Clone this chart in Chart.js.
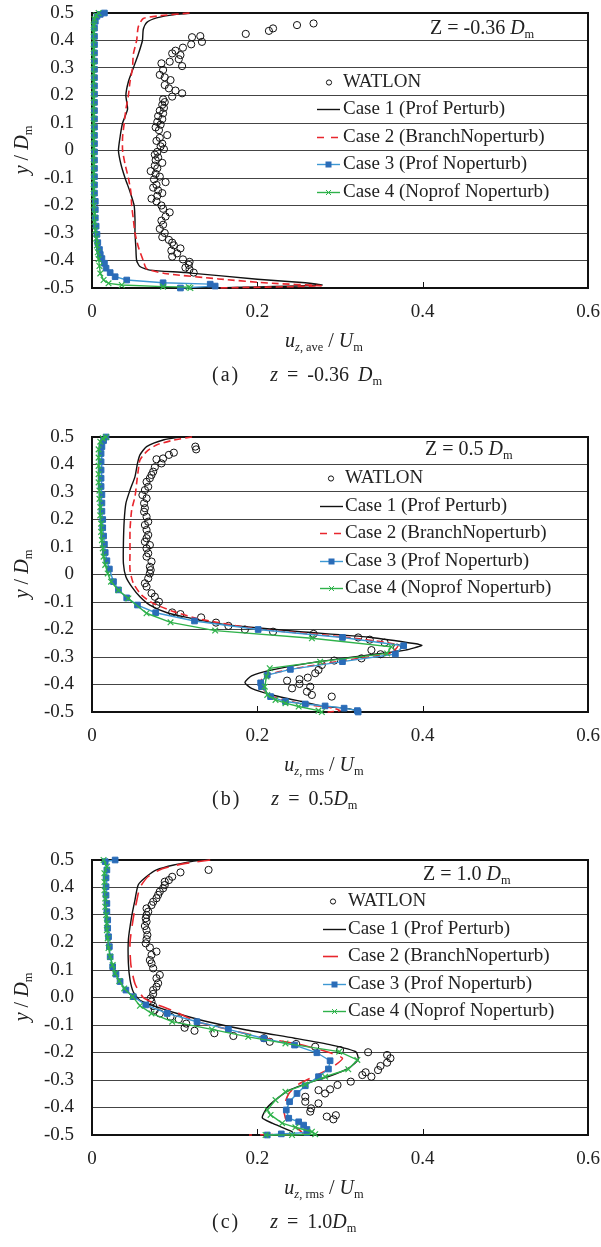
<!DOCTYPE html>
<html>
<head>
<meta charset="utf-8">
<script src="https://cdn.jsdelivr.net/npm/chart.js@4.4.0/dist/chart.umd.min.js"></script>
<style>
  body { margin: 0; background: #fff; }
  #page { position: relative; width: 601px; height: 1247px; overflow: hidden;
          font-family: "Liberation Serif", "Times New Roman", serif; color: #222; }
  .panel { position: absolute; left: 0; width: 601px; height: 330px; }
  .lbl { position: absolute; white-space: nowrap; font-size: 20px; line-height: 20px; }
  .lbl sub { font-size: 0.62em; vertical-align: baseline; position: relative; top: 0.3em; }
  .ytitle { transform: translate(-50%, -50%) rotate(-90deg); }
  .xtitle { transform: translateX(-50%); }
  .cap { letter-spacing: 2px; margin-right: 30px; }
  .capz { word-spacing: 4px; }
</style>
</head>
<body>
<div id="page">
  <div class="panel" style="top:0px"><canvas id="chartA"></canvas></div>
  <div class="panel" style="top:424px"><canvas id="chartB"></canvas></div>
  <div class="panel" style="top:847px"><canvas id="chartC"></canvas></div>

  <!-- panel (a) -->
  <div class="lbl ytitle" style="left:22px; top:150px"><i>y</i> / <i>D</i><sub>m</sub></div>
  <div class="lbl xtitle" style="left:324px; top:330px"><i>u</i><sub><i>z</i>, ave</sub> / <i>U</i><sub>m</sub></div>
  <div class="lbl" style="left:430px; top:17px">Z = -0.36 <i>D</i><sub>m</sub></div>
  <div class="lbl" style="left:212px; top:364px"><span class="cap">(a)</span><span class="capz"><i>z</i> = -0.36 <i>D</i><sub>m</sub></span></div>

  <!-- panel (b) -->
  <div class="lbl ytitle" style="left:22px; top:574px"><i>y</i> / <i>D</i><sub>m</sub></div>
  <div class="lbl xtitle" style="left:324px; top:754px"><i>u</i><sub><i>z</i>, rms</sub> / <i>U</i><sub>m</sub></div>
  <div class="lbl" style="left:425px; top:438px">Z = 0.5 <i>D</i><sub>m</sub></div>
  <div class="lbl" style="left:212px; top:788px"><span class="cap">(b)</span><span class="capz"><i>z</i> = 0.5<i>D</i><sub>m</sub></span></div>

  <!-- panel (c) -->
  <div class="lbl ytitle" style="left:22px; top:997px"><i>y</i> / <i>D</i><sub>m</sub></div>
  <div class="lbl xtitle" style="left:324px; top:1177px"><i>u</i><sub><i>z</i>, rms</sub> / <i>U</i><sub>m</sub></div>
  <div class="lbl" style="left:423px; top:863px">Z = 1.0 <i>D</i><sub>m</sub></div>
  <div class="lbl" style="left:212px; top:1211px"><span class="cap">(c)</span><span class="capz"><i>z</i> = 1.0<i>D</i><sub>m</sub></span></div>
</div>

<script>
// axes
const xTicks = [0, 0.2, 0.4, 0.6];
const xTickLabels = ['0', '0.2', '0.4', '0.6'];
const yTicks = [-0.5, -0.4, -0.3, -0.2, -0.1, 0, 0.1, 0.2, 0.3, 0.4, 0.5];
const yTickLabelsAB = ['-0.5', '-0.4', '-0.3', '-0.2', '-0.1', '0', '0.1', '0.2', '0.3', '0.4', '0.5'];
const yTickLabelsC = ['-0.5', '-0.4', '-0.3', '-0.2', '-0.1', '0.0', '0.1', '0.2', '0.3', '0.4', '0.5'];
const seriesNames = ['WATLON', 'Case 1 (Prof Perturb)', 'Case 2 (BranchNoperturb)', 'Case 3 (Prof Noperturb)', 'Case 4 (Noprof Noperturb)'];

// (a) z = -0.36 Dm, pairs are [u/Um, y/Dm]
const aWatlon = [
  [0.186, 0.424], [0.214, 0.435], [0.219, 0.444], [0.248, 0.456], [0.268, 0.462],
  [0.131, 0.416], [0.121, 0.412], [0.133, 0.395], [0.12, 0.386], [0.11, 0.374], [0.101, 0.363], [0.097, 0.353],
  [0.107, 0.347], [0.105, 0.332], [0.094, 0.323], [0.109, 0.307], [0.084, 0.317], [0.086, 0.293], [0.082, 0.275],
  [0.088, 0.266], [0.095, 0.256], [0.088, 0.238], [0.093, 0.226], [0.101, 0.218], [0.109, 0.208], [0.097, 0.196],
  [0.086, 0.186], [0.088, 0.176], [0.085, 0.166], [0.087, 0.155], [0.082, 0.145], [0.086, 0.135], [0.08, 0.125],
  [0.085, 0.114], [0.079, 0.104], [0.083, 0.094], [0.077, 0.084], [0.081, 0.074], [0.091, 0.056], [0.082, 0.046],
  [0.078, 0.035], [0.085, 0.025], [0.083, 0.015], [0.087, 0.005], [0.079, -0.005], [0.076, -0.015], [0.08, -0.025],
  [0.077, -0.035], [0.085, -0.045], [0.076, -0.055], [0.079, -0.065], [0.071, -0.075], [0.077, -0.085], [0.082, -0.095],
  [0.075, -0.105], [0.089, -0.115], [0.078, -0.125], [0.074, -0.135], [0.08, -0.145], [0.085, -0.155], [0.079, -0.165],
  [0.072, -0.175], [0.078, -0.185], [0.084, -0.2], [0.086, -0.212], [0.094, -0.225], [0.089, -0.24], [0.084, -0.255],
  [0.086, -0.27], [0.082, -0.285], [0.088, -0.3], [0.085, -0.315], [0.093, -0.325], [0.097, -0.335], [0.099, -0.345],
  [0.107, -0.356], [0.096, -0.364], [0.103, -0.374], [0.097, -0.386], [0.11, -0.396], [0.118, -0.405], [0.117, -0.416],
  [0.113, -0.426], [0.118, -0.432], [0.123, -0.444]
];
const aCase1 = [
  [0.125, 0.5], [0.1, 0.494], [0.078, 0.482], [0.066, 0.465], [0.062, 0.44], [0.061, 0.4], [0.056, 0.35], [0.05, 0.3],
  [0.044, 0.25], [0.041, 0.2], [0.043, 0.15], [0.037, 0.1], [0.034, 0.05], [0.032, 0.0], [0.035, -0.05], [0.04, -0.1],
  [0.046, -0.15], [0.051, -0.2], [0.052, -0.25], [0.052, -0.3], [0.053, -0.35], [0.054, -0.4], [0.058, -0.422],
  [0.07, -0.435], [0.113, -0.444], [0.2, -0.468], [0.258, -0.481], [0.278, -0.489], [0.15, -0.5]
];
const aCase2 = [
  [0.118, 0.5], [0.082, 0.49], [0.062, 0.48], [0.056, 0.45], [0.054, 0.4], [0.05, 0.35], [0.049, 0.3], [0.046, 0.25],
  [0.044, 0.2], [0.041, 0.15], [0.039, 0.1], [0.037, 0.05], [0.037, 0.0], [0.04, -0.05], [0.044, -0.1], [0.047, -0.15],
  [0.048, -0.2], [0.05, -0.25], [0.052, -0.3], [0.056, -0.35], [0.062, -0.4], [0.066, -0.43], [0.088, -0.447],
  [0.153, -0.467], [0.218, -0.483], [0.277, -0.492], [0.15, -0.5]
];
const aCase3 = [
  [0.015, 0.5], [0.01, 0.495], [0.006, 0.488], [0.004, 0.47], [0.003, 0.445], [0.003, 0.415], [0.003, 0.385],
  [0.003, 0.355], [0.003, 0.325], [0.003, 0.295], [0.003, 0.265], [0.003, 0.235], [0.003, 0.205], [0.003, 0.175],
  [0.003, 0.145], [0.003, 0.115], [0.003, 0.085], [0.003, 0.055], [0.003, 0.025], [0.003, -0.005], [0.003, -0.035],
  [0.003, -0.065], [0.003, -0.095], [0.003, -0.125], [0.003, -0.155], [0.004, -0.185], [0.004, -0.215], [0.004, -0.245],
  [0.005, -0.275], [0.006, -0.305], [0.007, -0.335], [0.009, -0.36], [0.01, -0.378], [0.012, -0.393], [0.015, -0.41],
  [0.017, -0.428], [0.022, -0.444], [0.028, -0.459], [0.042, -0.471], [0.086, -0.481], [0.143, -0.486], [0.149, -0.493],
  [0.107, -0.5]
];
const aCase4 = [
  [0.008, 0.5], [0.005, 0.492], [0.003, 0.478], [0.002, 0.455], [0.002, 0.43], [0.002, 0.4], [0.002, 0.37], [0.002, 0.34],
  [0.002, 0.31], [0.002, 0.28], [0.002, 0.25], [0.002, 0.22], [0.002, 0.19], [0.002, 0.16], [0.002, 0.13], [0.002, 0.1],
  [0.002, 0.07], [0.002, 0.04], [0.002, 0.01], [0.002, -0.02], [0.002, -0.05], [0.002, -0.08], [0.002, -0.11],
  [0.002, -0.14], [0.002, -0.17], [0.002, -0.2], [0.003, -0.23], [0.003, -0.26], [0.004, -0.29], [0.005, -0.32],
  [0.006, -0.345], [0.007, -0.37], [0.008, -0.395], [0.009, -0.42], [0.01, -0.447], [0.014, -0.471], [0.02, -0.483],
  [0.036, -0.489], [0.086, -0.495], [0.117, -0.497], [0.119, -0.5]
];

// (b) z = 0.5 Dm
const bWatlon = [
  [0.125, 0.465], [0.126, 0.455], [0.099, 0.443], [0.093, 0.435], [0.086, 0.422], [0.078, 0.419], [0.084, 0.404],
  [0.076, 0.39], [0.074, 0.374], [0.072, 0.362], [0.07, 0.35], [0.066, 0.337], [0.068, 0.319], [0.064, 0.307],
  [0.061, 0.289], [0.066, 0.277], [0.063, 0.259], [0.064, 0.241], [0.063, 0.228], [0.066, 0.21], [0.068, 0.192],
  [0.064, 0.18], [0.066, 0.162], [0.068, 0.144], [0.066, 0.132], [0.064, 0.119], [0.07, 0.107], [0.066, 0.095],
  [0.068, 0.077], [0.066, 0.065], [0.072, 0.047], [0.07, 0.028], [0.071, 0.016], [0.07, 0.004], [0.068, -0.014],
  [0.064, -0.032], [0.066, -0.044], [0.072, -0.068], [0.076, -0.081], [0.081, -0.099], [0.078, -0.111],
  [0.097, -0.138], [0.107, -0.144], [0.132, -0.156], [0.15, -0.175], [0.165, -0.187], [0.185, -0.2], [0.219, -0.208],
  [0.268, -0.216], [0.322, -0.229], [0.336, -0.237], [0.354, -0.248], [0.369, -0.266], [0.338, -0.275], [0.349, -0.29],
  [0.326, -0.305], [0.293, -0.313], [0.278, -0.329], [0.274, -0.347], [0.27, -0.359], [0.261, -0.375], [0.251, -0.381],
  [0.236, -0.386], [0.251, -0.398], [0.264, -0.408], [0.242, -0.414], [0.26, -0.426], [0.266, -0.438], [0.29, -0.444]
];
const bCase1 = [
  [0.107, 0.5], [0.087, 0.49], [0.066, 0.465], [0.058, 0.435], [0.055, 0.404], [0.052, 0.356], [0.046, 0.307],
  [0.041, 0.259], [0.039, 0.198], [0.038, 0.113], [0.038, 0.04], [0.041, -0.008], [0.048, -0.044], [0.058, -0.081],
  [0.07, -0.111], [0.091, -0.139], [0.115, -0.156], [0.151, -0.178], [0.192, -0.192], [0.252, -0.208], [0.335, -0.228],
  [0.392, -0.252], [0.399, -0.258], [0.379, -0.275], [0.344, -0.289], [0.274, -0.317], [0.218, -0.347], [0.193, -0.369],
  [0.185, -0.393], [0.193, -0.414], [0.218, -0.438], [0.254, -0.462], [0.282, -0.48], [0.306, -0.486], [0.32, -0.495],
  [0.322, -0.5]
];
const bCase2 = [
  [0.121, 0.5], [0.099, 0.489], [0.078, 0.471], [0.066, 0.447], [0.058, 0.416], [0.056, 0.38], [0.054, 0.332],
  [0.052, 0.283], [0.048, 0.235], [0.046, 0.162], [0.046, 0.089], [0.046, 0.016], [0.05, -0.032], [0.06, -0.075],
  [0.074, -0.105], [0.099, -0.135], [0.13, -0.162], [0.2, -0.198], [0.3, -0.226], [0.37, -0.256], [0.362, -0.285],
  [0.3, -0.315], [0.24, -0.345], [0.21, -0.368], [0.203, -0.397], [0.215, -0.44], [0.25, -0.468], [0.29, -0.485],
  [0.3, -0.495], [0.285, -0.5]
];
const bCase3 = [
  [0.017, 0.5], [0.014, 0.487], [0.012, 0.465], [0.011, 0.44], [0.011, 0.41], [0.011, 0.38], [0.011, 0.35],
  [0.011, 0.32], [0.012, 0.29], [0.012, 0.26], [0.012, 0.23], [0.013, 0.2], [0.013, 0.17], [0.014, 0.14],
  [0.015, 0.11], [0.016, 0.08], [0.018, 0.05], [0.021, 0.02], [0.026, -0.026], [0.032, -0.056], [0.042, -0.085],
  [0.055, -0.111], [0.077, -0.139], [0.124, -0.169], [0.201, -0.2], [0.303, -0.229], [0.377, -0.259], [0.367, -0.289],
  [0.303, -0.317], [0.24, -0.345], [0.212, -0.366], [0.204, -0.394], [0.205, -0.408], [0.216, -0.444], [0.234, -0.462],
  [0.258, -0.471], [0.282, -0.478], [0.305, -0.486], [0.321, -0.495], [0.322, -0.5]
];
const bCase4 = [
  [0.017, 0.5], [0.013, 0.495], [0.01, 0.483], [0.008, 0.455], [0.008, 0.425], [0.008, 0.395], [0.008, 0.365],
  [0.008, 0.335], [0.009, 0.305], [0.009, 0.275], [0.01, 0.245], [0.01, 0.215], [0.011, 0.185], [0.011, 0.155],
  [0.012, 0.125], [0.013, 0.095], [0.014, 0.065], [0.016, 0.035], [0.019, 0.004], [0.023, -0.026], [0.032, -0.057],
  [0.044, -0.087], [0.066, -0.141], [0.095, -0.174], [0.149, -0.204], [0.266, -0.232], [0.362, -0.263], [0.357, -0.287],
  [0.276, -0.317], [0.215, -0.341], [0.211, -0.371], [0.209, -0.408], [0.212, -0.438], [0.222, -0.456], [0.234, -0.468],
  [0.25, -0.48], [0.274, -0.495], [0.278, -0.5]
];

// (c) z = 1.0 Dm
const cWatlon = [
  [0.141, 0.464], [0.107, 0.455], [0.097, 0.439], [0.093, 0.427], [0.088, 0.421], [0.088, 0.409], [0.086, 0.397],
  [0.082, 0.385], [0.08, 0.373], [0.078, 0.361], [0.074, 0.348], [0.072, 0.336], [0.066, 0.324], [0.068, 0.312],
  [0.066, 0.3], [0.065, 0.288], [0.066, 0.276], [0.064, 0.26], [0.066, 0.245], [0.067, 0.227], [0.066, 0.212],
  [0.065, 0.197], [0.07, 0.182], [0.078, 0.167], [0.072, 0.155], [0.07, 0.136], [0.072, 0.124], [0.074, 0.106],
  [0.082, 0.082], [0.078, 0.07], [0.08, 0.052], [0.078, 0.039], [0.074, 0.027], [0.074, 0.013], [0.071, -0.003],
  [0.072, -0.015], [0.074, -0.031], [0.076, -0.045], [0.082, -0.058], [0.095, -0.07], [0.105, -0.079], [0.114, -0.095],
  [0.112, -0.11], [0.124, -0.121], [0.148, -0.13], [0.171, -0.14], [0.208, -0.148], [0.215, -0.161], [0.247, -0.169],
  [0.27, -0.179], [0.3, -0.191], [0.334, -0.199], [0.357, -0.209], [0.361, -0.221], [0.357, -0.237], [0.349, -0.249],
  [0.346, -0.264], [0.331, -0.272], [0.327, -0.282], [0.338, -0.288], [0.313, -0.306], [0.297, -0.318], [0.288, -0.334],
  [0.274, -0.337], [0.282, -0.349], [0.258, -0.361], [0.258, -0.379], [0.274, -0.385], [0.265, -0.403], [0.264, -0.415],
  [0.295, -0.428], [0.284, -0.433], [0.292, -0.443]
];
const cCase1 = [
  [0.131, 0.5], [0.099, 0.482], [0.078, 0.464], [0.066, 0.44], [0.056, 0.41], [0.052, 0.355], [0.048, 0.295],
  [0.044, 0.21], [0.044, 0.125], [0.046, 0.065], [0.05, 0.02], [0.058, -0.01], [0.08, -0.036], [0.105, -0.06],
  [0.14, -0.088], [0.187, -0.118], [0.245, -0.148], [0.29, -0.173], [0.319, -0.197], [0.322, -0.225], [0.31, -0.258],
  [0.286, -0.288], [0.26, -0.312], [0.24, -0.335], [0.225, -0.365], [0.212, -0.4], [0.206, -0.437], [0.218, -0.457],
  [0.242, -0.488], [0.243, -0.5]
];
const cCase2 = [
  [0.143, 0.5], [0.11, 0.486], [0.085, 0.468], [0.068, 0.44], [0.058, 0.4], [0.054, 0.35], [0.05, 0.29], [0.046, 0.2],
  [0.047, 0.12], [0.052, 0.05], [0.062, 0.0], [0.078, -0.025], [0.1, -0.05], [0.127, -0.088], [0.165, -0.116],
  [0.21, -0.148], [0.25, -0.17], [0.285, -0.198], [0.303, -0.221], [0.29, -0.255], [0.27, -0.285], [0.25, -0.315],
  [0.238, -0.35], [0.232, -0.4], [0.234, -0.439], [0.238, -0.457], [0.25, -0.48], [0.255, -0.495], [0.19, -0.5]
];
const cCase3 = [
  [0.028, 0.5], [0.016, 0.494], [0.018, 0.464], [0.017, 0.435], [0.017, 0.403], [0.017, 0.372], [0.018, 0.342],
  [0.018, 0.312], [0.019, 0.282], [0.019, 0.252], [0.02, 0.221], [0.021, 0.185], [0.022, 0.148], [0.025, 0.112],
  [0.029, 0.085], [0.034, 0.058], [0.041, 0.027], [0.05, 0.003], [0.065, -0.027], [0.091, -0.058], [0.127, -0.088],
  [0.165, -0.116], [0.208, -0.149], [0.245, -0.173], [0.272, -0.201], [0.288, -0.23], [0.286, -0.26], [0.274, -0.288],
  [0.258, -0.321], [0.248, -0.349], [0.239, -0.379], [0.235, -0.409], [0.238, -0.439], [0.25, -0.452], [0.256, -0.464],
  [0.26, -0.48], [0.26, -0.491], [0.229, -0.496], [0.212, -0.5]
];
const cCase4 = [
  [0.014, 0.5], [0.018, 0.476], [0.015, 0.452], [0.015, 0.42], [0.015, 0.39], [0.016, 0.36], [0.016, 0.33],
  [0.017, 0.3], [0.018, 0.27], [0.018, 0.245], [0.019, 0.215], [0.02, 0.18], [0.022, 0.148], [0.025, 0.118],
  [0.028, 0.088], [0.033, 0.06], [0.039, 0.033], [0.049, 0.003], [0.058, -0.03], [0.072, -0.058], [0.097, -0.088],
  [0.145, -0.116], [0.189, -0.143], [0.234, -0.167], [0.299, -0.197], [0.321, -0.227], [0.31, -0.261], [0.282, -0.288],
  [0.258, -0.316], [0.234, -0.343], [0.222, -0.373], [0.212, -0.409], [0.216, -0.427], [0.23, -0.457], [0.246, -0.472],
  [0.266, -0.488], [0.27, -0.497], [0.242, -0.5], [0.21, -0.5]
];

const serif = '"Liberation Serif", "Times New Roman", serif';

// plot frame + short inward ticks on the bottom axis
const framePlugin = {
  id: 'frame',
  beforeDatasetsDraw(chart) {
    const { ctx, chartArea: a, scales } = chart;
    ctx.save();
    ctx.strokeStyle = '#111';
    ctx.lineWidth = 2;
    ctx.strokeRect(a.left, a.top, a.right - a.left, a.bottom - a.top);
    ctx.lineWidth = 1;
    xTicks.forEach(v => {
      const px = Math.round(scales.x.getPixelForValue(v)) + 0.5;
      ctx.beginPath();
      ctx.moveTo(px, a.bottom);
      ctx.lineTo(px, a.bottom - 6);
      ctx.stroke();
    });
    ctx.restore();
  }
};

// legend drawn inside the plot, one entry per grid band
const legendPlugin = {
  id: 'panelLegend',
  afterDatasetsDraw(chart, args, opts) {
    const { ctx } = chart;
    const yScale = chart.scales.y;
    ctx.save();
    ctx.font = '19px ' + serif;
    ctx.textBaseline = 'middle';
    chart.data.datasets.forEach((ds, i) => {
      const y = Math.round(yScale.getPixelForValue(opts.rows[i])) + 0.5;
      if (i === 0) {
        ctx.beginPath();
        ctx.arc(opts.markerX, y, 2.6, 0, Math.PI * 2);
        ctx.strokeStyle = '#111';
        ctx.lineWidth = 1;
        ctx.stroke();
      } else {
        ctx.strokeStyle = ds.borderColor;
        ctx.lineWidth = ds.borderWidth;
        ctx.setLineDash(i === 2 ? opts.dash : []);
        ctx.beginPath();
        ctx.moveTo(opts.lineX1, y);
        ctx.lineTo(i === 2 ? opts.dashEnd : opts.lineX2, y);
        ctx.stroke();
        ctx.setLineDash([]);
        const mx = (opts.lineX1 + opts.lineX2) / 2;
        if (ds.pointStyle === 'rect') {
          ctx.fillStyle = ds.pointBackgroundColor;
          ctx.fillRect(mx - 3, y - 3, 6, 6);
        } else if (ds.pointStyle === 'crossRot') {
          ctx.strokeStyle = ds.pointBorderColor;
          ctx.lineWidth = 1;
          ctx.beginPath();
          ctx.moveTo(mx - 2.5, y - 2.5); ctx.lineTo(mx + 2.5, y + 2.5);
          ctx.moveTo(mx - 2.5, y + 2.5); ctx.lineTo(mx + 2.5, y - 2.5);
          ctx.stroke();
        }
      }
      ctx.fillStyle = '#222';
      ctx.fillText(ds.label, opts.textX, y);
    });
    ctx.restore();
  }
};

function pts(arr) {
  return arr.map(p => ({ x: p[0], y: p[1] }));
}

function makePanel(id, series, yLabels, redDash, legend) {
  return new Chart(document.getElementById(id), {
    type: 'scatter',
    data: {
      datasets: [
        { label: seriesNames[0], data: pts(series[0]), showLine: false, pointStyle: 'circle', pointRadius: 3.6,
          pointBorderColor: '#111', pointBackgroundColor: 'rgba(0,0,0,0)', pointBorderWidth: 1, order: 5, clip: false },
        { label: seriesNames[1], data: pts(series[1]), showLine: true, borderColor: '#111', borderWidth: 1.4,
          pointRadius: 0, tension: 0.2, order: 4, clip: false },
        { label: seriesNames[2], data: pts(series[2]), showLine: true, borderColor: '#e8262d', borderWidth: 1.6,
          borderDash: redDash, pointRadius: 0, tension: 0.2, order: 3, clip: false },
        { label: seriesNames[3], data: pts(series[3]), showLine: true, borderColor: '#3d98d3', borderWidth: 1.4,
          pointStyle: 'rect', pointRadius: 4, pointBackgroundColor: '#2a6cb8', pointBorderColor: '#2a6cb8',
          pointBorderWidth: 1, order: 2, clip: false },
        { label: seriesNames[4], data: pts(series[4]), showLine: true, borderColor: '#2fb24b', borderWidth: 1.4,
          pointStyle: 'crossRot', pointRadius: 4, pointBorderColor: '#2fb24b', pointBackgroundColor: '#2fb24b',
          pointBorderWidth: 1.2, order: 1, clip: false }
      ]
    },
    options: {
      responsive: true,
      maintainAspectRatio: false,
      animation: false,
      events: [],
      layout: { padding: { top: 13, right: 13, left: 0, bottom: 0 } },
      plugins: {
        legend: { display: false },
        tooltip: { enabled: false },
        panelLegend: legend
      },
      scales: {
        x: {
          type: 'linear',
          min: 0,
          max: 0.6,
          afterBuildTicks: s => { s.ticks = xTicks.map(v => ({ value: v })); },
          afterFit: s => { s.height = 42; s.paddingLeft = 0; s.paddingRight = 0; },
          grid: { display: false, drawTicks: false },
          border: { display: false },
          ticks: {
            callback: (v, i) => xTickLabels[i],
            font: { family: serif, size: 19 },
            color: '#222',
            padding: 13,
            maxRotation: 0,
            autoSkip: false
          }
        },
        y: {
          type: 'linear',
          min: -0.5,
          max: 0.5,
          afterBuildTicks: s => { s.ticks = yTicks.map(v => ({ value: v })); },
          afterFit: s => { s.width = 92; s.paddingTop = 0; s.paddingBottom = 0; },
          grid: { color: '#444', lineWidth: 1, drawTicks: false },
          border: { display: false },
          ticks: {
            callback: (v, i) => yLabels[i],
            font: { family: serif, size: 19 },
            color: '#222',
            padding: 18,
            autoSkip: false
          }
        }
      }
    },
    plugins: [framePlugin, legendPlugin]
  });
}

try {
  makePanel('chartA', [aWatlon, aCase1, aCase2, aCase3, aCase4], yTickLabelsAB, [7, 4],
    { rows: [0.25, 0.15, 0.05, -0.05, -0.15], markerX: 329, lineX1: 317, lineX2: 340, dashEnd: 340, dash: [7, 7], textX: 343 });
  makePanel('chartB', [bWatlon, bCase1, bCase2, bCase3, bCase4], yTickLabelsAB, [7, 4],
    { rows: [0.35, 0.25, 0.15, 0.05, -0.05], markerX: 331, lineX1: 320, lineX2: 343, dashEnd: 343, dash: [7, 7], textX: 345 });
  makePanel('chartC', [cWatlon, cCase1, cCase2, cCase3, cCase4], yTickLabelsC, [13, 8],
    { rows: [0.35, 0.25, 0.15, 0.05, -0.05], markerX: 333, lineX1: 323, lineX2: 346, dashEnd: 338, dash: [], textX: 348 });
} catch (error) {
  console.error('An error occurred while initializing the chart:', error);
}
</script>
</body>
</html>
